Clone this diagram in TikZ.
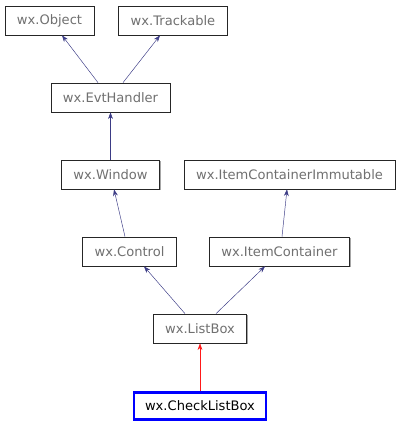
\documentclass[tikz,border=0pt]{standalone}
\usepackage{fontspec}
\setmainfont{DejaVu Sans}
\usetikzlibrary{arrows.meta,shadows}
\definecolor{edgeblue}{HTML}{191970}
\definecolor{labelgray}{HTML}{707070}
\begin{document}
\begin{tikzpicture}[x=0.75pt,y=-0.75pt]
            \tikzset{
                cls/.style={draw=black!85, line width=0.55pt, fill=white, text=labelgray, font=\fontsize{9.8}{11}\selectfont,
                    minimum height=21.75pt, inner xsep=9pt, inner ysep=0pt,
                    drop shadow={shadow xshift=0.75pt, shadow yshift=-0.75pt, fill=gray!70, opacity=1}},
                focus/.style={draw=blue, line width=2pt, fill=white, text=black, font=\fontsize{9.8}{11}\selectfont,
                    minimum height=20.5pt, inner xsep=8.2pt, inner ysep=0pt},
                inherit/.style={edgeblue!85, line width=0.35pt, -{Stealth[length=5pt,width=3.6pt]}},
                direct/.style={red!90, line width=0.35pt, -{Stealth[length=5pt,width=3.6pt]}}}
            \useasboundingbox (0,0) rectangle (401,427);
            \node [cls] (object) at (49.5,20.5) {wx.Object};
            \node [cls] (trackable) at (173,20.5) {wx.Trackable};
            \node [cls] (evthandler) at (110.5,97.5) {wx.EvtHandler};
            \node [cls] (window) at (110.5,174.5) {wx.Window};
            \node [cls] (immutable) at (289.5,174.5) {wx.ItemContainerImmutable};
            \node [cls] (control) at (129.5,251.5) {wx.Control};
            \node [cls] (container) at (279.5,251.5) {wx.ItemContainer};
            \node [cls] (listbox) at (200,328.5) {wx.ListBox};
            \node [focus] (checklistbox) at (200,406) {wx.CheckListBox};
            % inheritance edges
            \draw [inherit] (evthandler.north -| 98,0) -- (object.south -| 62,0);
            \draw [inherit] (evthandler.north -| 123,0) -- (trackable.south -| 160,0);
            \draw [inherit] (window) -- (evthandler);
            \draw [inherit] (control.north -| 125,0) -- (window.south -| 114,0);
            \draw [inherit] (container.north -| 282,0) -- (immutable.south -| 287,0);
            \draw [inherit] (listbox.north -| 185,0) -- (control.south -| 144,0);
            \draw [inherit] (listbox.north -| 216,0) -- (container.south -| 265,0);
            \draw [direct] (checklistbox) -- (listbox);
        \end{tikzpicture}
\end{document}
